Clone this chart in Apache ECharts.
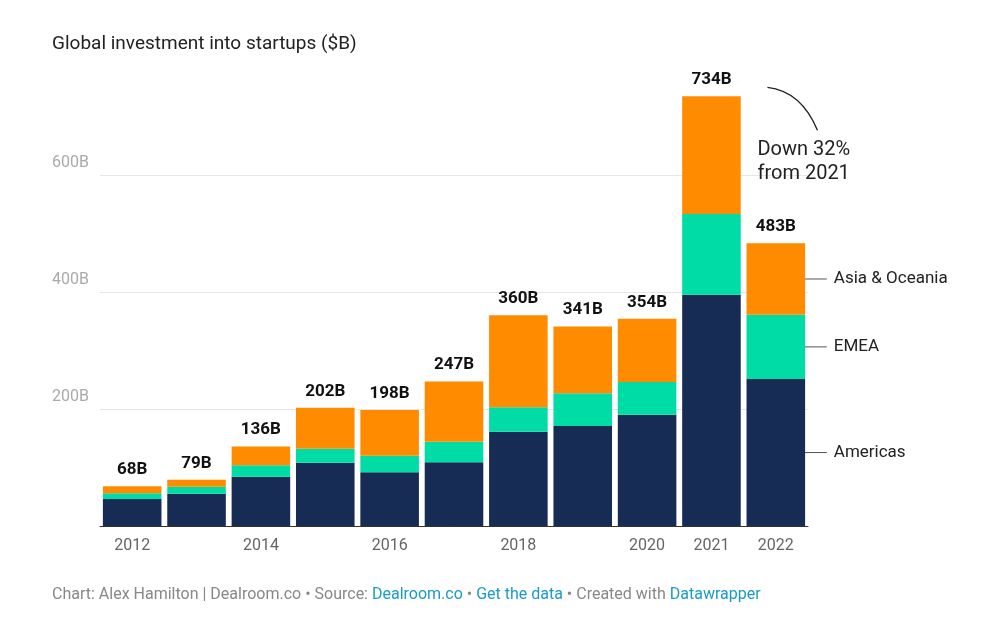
<!DOCTYPE html>
<html>
<head>
<meta charset="utf-8">
<script src="https://cdn.jsdelivr.net/npm/echarts@6/dist/echarts.min.js"></script>
<style>
  html, body { margin: 0; background: #fff; }
  #chart { width: 990px; height: 630px; }
</style>
</head>
<body>
<div id="chart"></div>
<script>
var years = ["2012", "2013", "2014", "2015", "2016", "2017", "2018", "2019", "2020", "2021", "2022"];
var americas = [46, 55, 84, 108, 92, 109, 161, 171, 190, 395, 251];
var emea = [10, 12, 20, 24, 28, 35, 42, 56, 56, 138, 110];
var asia = [12, 12, 32, 70, 78, 103, 157, 114, 108, 201, 122];
var totals = [68, 79, 136, 202, 198, 247, 360, 341, 354, 734, 483];
var hiddenYears = ["2013", "2015", "2017", "2019"];

var font = "Roboto";
var chart = echarts.init(document.getElementById("chart"));

var option = {
  animation: false,
  textStyle: { fontFamily: font },
  title: {
    text: "Global investment into startups ($B)",
    left: 47, top: 30,
    textStyle: { fontSize: 19, fontWeight: "normal", color: "#222", fontFamily: font }
  },
  grid: { left: 100, right: 182, top: 87, bottom: 104 },
  xAxis: {
    type: "category",
    data: years,
    axisTick: { show: false },
    axisLine: { lineStyle: { color: "#333", width: 1 } },
    axisLabel: {
      color: "#666", fontSize: 16, margin: 12,
      formatter: function (v) { return hiddenYears.indexOf(v) >= 0 ? "" : v; }
    }
  },
  yAxis: {
    type: "value",
    min: 0, max: 750, interval: 200,
    axisLabel: {
      color: "#aaa", fontSize: 16, align: "left", margin: 48,
      verticalAlign: "bottom", padding: [0, 0, 4, 0],
      showMaxLabel: false,
      formatter: function (v) { return v === 0 ? "" : v + "B"; }
    },
    splitLine: { showMaxLine: false, lineStyle: { color: "#e6e6e6" } }
  },
  series: [
    { name: "Americas", type: "bar", stack: "t", data: americas, barCategoryGap: "9%",
      itemStyle: { color: "#172c54" } },
    { name: "EMEA", type: "bar", stack: "t", data: emea,
      itemStyle: { color: "#00dca6" } },
    { name: "Asia & Oceania", type: "bar", stack: "t", data: asia,
      itemStyle: { color: "#ff8c00" },
      label: {
        show: true, position: "top", distance: 8,
        fontSize: 17, fontWeight: "bold", color: "#111",
        formatter: function (p) { return totals[p.dataIndex] + "B"; }
      } }
  ]
};
chart.setOption(option);

// right-hand annotations, positioned through the chart's scales
var last = years.length - 1;
var barRight = chart.convertToPixel({ gridIndex: 0 }, [last, 0])[0] + 29;
function mid(lo, hi) { return chart.convertToPixel({ gridIndex: 0 }, [last, (lo + hi) / 2])[1]; }
var segs = [
  ["Americas", 0, americas[last]],
  ["EMEA", americas[last], americas[last] + emea[last]],
  ["Asia & Oceania", americas[last] + emea[last], totals[last]]
];
var graphics = [];
segs.forEach(function (s) {
  var y = mid(s[1], s[2]);
  graphics.push({ type: "line", shape: { x1: barRight, y1: y, x2: barRight + 22, y2: y },
    style: { stroke: "#555", lineWidth: 1 } });
  graphics.push({ type: "text", x: barRight + 29, y: y,
    style: { text: s[0], fontSize: 17, fill: "#222", fontFamily: font, verticalAlign: "middle" } });
});
var p21 = chart.convertToPixel({ gridIndex: 0 }, [last - 1, totals[last - 1]]);
graphics.push({ type: "bezierCurve",
  shape: { x1: p21[0] + 56, y1: p21[1] - 9, cpx1: p21[0] + 90, cpy1: p21[1] - 5, x2: p21[0] + 106, y2: p21[1] + 34 },
  style: { stroke: "#222", lineWidth: 1.3, fill: null } });
graphics.push({ type: "text", x: p21[0] + 46, y: p21[1] + 42,
  style: { text: "Down 32%\nfrom 2021", fontSize: 20, lineHeight: 24, fill: "#222", fontFamily: font } });
graphics.push({ type: "text", left: 52, top: 587,
  style: {
    text: "{g|Chart: Alex Hamilton | Dealroom.co • Source: }{b|Dealroom.co}{g| • }{b|Get the data}{g| • Created with }{b|Datawrapper}",
    fontFamily: font,
    rich: { g: { fill: "#888", fontSize: 16, fontFamily: font }, b: { fill: "#1a9bc4", fontSize: 16, fontFamily: font } }
  } });
chart.setOption({ graphic: graphics });
</script>
</body>
</html>
